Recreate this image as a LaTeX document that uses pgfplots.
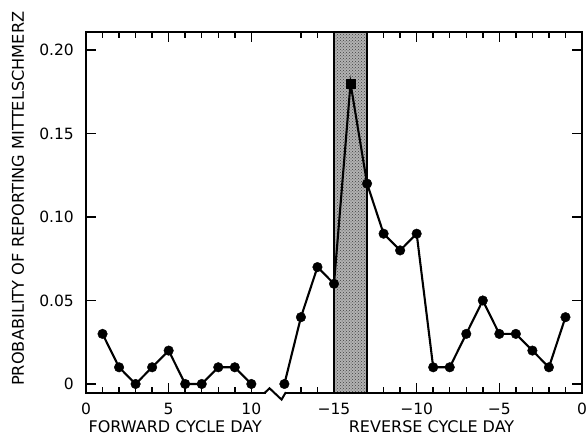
\documentclass[border=0pt]{standalone}
\usepackage{fontspec}
\setmainfont{DejaVu Sans}
\usepackage{pgfplots}
\pgfplotsset{compat=1.18}
\usetikzlibrary{calc,patterns}

\begin{document}
\begin{tikzpicture}
\useasboundingbox (-86pt,-45pt) rectangle (500pt,393pt);
\begin{axis}[
  name=ax,
  at={(0,0)}, anchor=south west,
  scale only axis, width=496pt, height=361pt,
  xmin=0, xmax=30, ymin=-0.0054, ymax=0.2108,
  axis line style={line width=2pt},
  xtick={0,5,10,15,20,25,30},
  xticklabels={0,5,10,−15,−10,−5,0},
  minor xtick={1,2,3,4,6,7,8,9,13,14,16,17,18,19,21,22,23,24,26,27,28,29},
  ytick={0,0.05,0.10,0.15,0.20},
  yticklabels={0,0.05,0.10,0.15,0.20},
  major tick length=10pt, minor tick length=6pt,
  tick style={line width=1.5pt, black},
  tick label style={font=\fontsize{15.5}{17}\selectfont},
  xticklabel style={anchor=base, inner sep=0pt, yshift=-22pt},
  yticklabel style={anchor=east, inner sep=0pt, xshift=-12pt},
  clip=false,
]
\addplot[draw=black, line width=1.8pt, fill=black!30,
  postaction={pattern=crosshatch dots, pattern color=black!75}]
  coordinates {(15,-0.0054) (15,0.2108) (17,0.2108) (17,-0.0054)} -- cycle;

\addplot[black, line width=2.1pt, mark=*, mark size=4.8pt,
  mark options={line width=0.4pt, solid}]
  coordinates {(1,0.03)(2,0.01)(3,0)(4,0.01)(5,0.02)(6,0)(7,0)(8,0.01)(9,0.01)(10,0)};

\addplot[black, line width=2.1pt, mark=*, mark size=4.8pt,
  mark options={line width=0.4pt, solid},
  mark indices={1,2,3,4,6,7,8,9,10,11,12,13,14,15,16,17,18}]
  coordinates {(12,0)(13,0.04)(14,0.07)(15,0.06)(16,0.18)(17,0.12)(18,0.09)(19,0.08)(20,0.09)(21,0.01)(22,0.01)(23,0.03)(24,0.05)(25,0.03)(26,0.03)(27,0.02)(28,0.01)(29,0.04)};

\addplot[black, only marks, mark=square*, mark size=4.3pt,
  mark options={line width=0.4pt}]
  coordinates {(16,0.18)};

\coordinate (b1) at (axis cs:10.8,-0.0054);
\coordinate (b2) at (axis cs:12.06,-0.0054);

\node[font=\fontsize{16}{18}\selectfont] at (axis cs:5.4,-0.0054) [yshift=-34pt] {FORWARD CYCLE DAY};
\node[font=\fontsize{16}{18}\selectfont] at (axis cs:20.9,-0.0054) [yshift=-34pt] {REVERSE CYCLE DAY};
\node[xshift=-68pt, font=\fontsize{16.2}{18}\selectfont, rotate=90] at (axis cs:0,0.111) {PROBABILITY OF REPORTING MITTELSCHMERZ};
\end{axis}
\fill[white] ($(b1)+(1pt,-2pt)$) rectangle ($(b2)+(-0.5pt,2pt)$);
\draw[line width=2pt, line join=miter] ($(b1)+(-0.5pt,0)$) -- (b1) -- ++(5pt,4.7pt) -- ++(12pt,-11.3pt) -- (b2) -- ++(0.5pt,0);
\end{tikzpicture}
\end{document}
